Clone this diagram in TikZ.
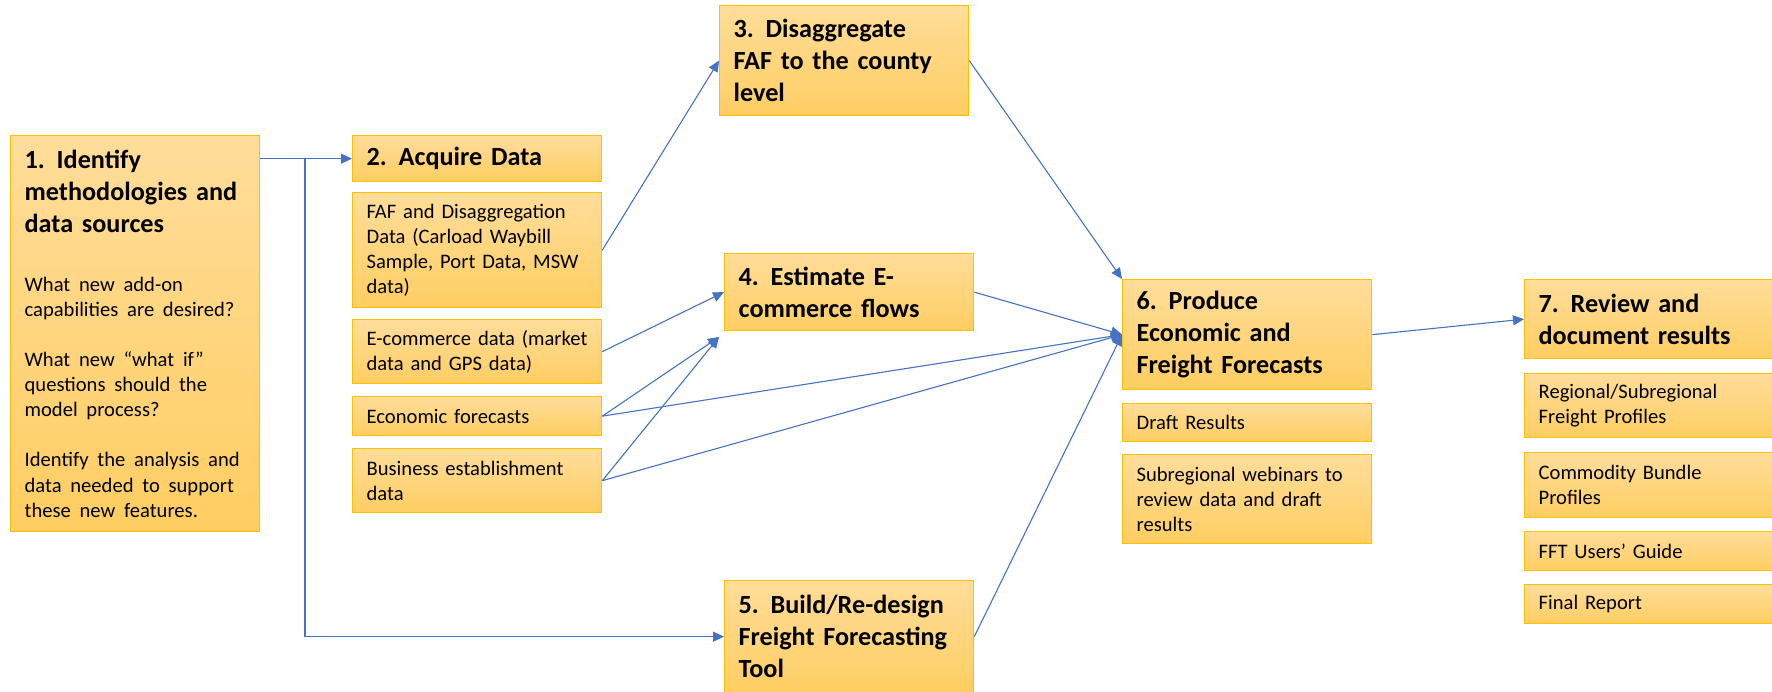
\documentclass[tikz,border=0pt]{standalone}
\usepackage{fontspec}
\setmainfont{Carlito}
\usetikzlibrary{arrows.meta}
\definecolor{boxtop}{HTML}{FFDD9A}
\definecolor{boxbot}{HTML}{FFCE62}
\definecolor{boxline}{HTML}{FFC000}
\definecolor{flowblue}{HTML}{4472C4}
\newcommand{\stagefont}{\fontsize{26.2}{32}\selectfont\bfseries}
\newcommand{\itemfont}{\fontsize{20.6}{25.1}\selectfont\mdseries}
\newcommand{\stepno}[1]{#1.\hspace{0.45em}}

\begin{document}
\begin{tikzpicture}[x=1pt, y=-1pt,
	flowbox/.style={anchor=north west, rectangle, draw=boxline, line width=1.3pt,
		top color=boxtop, bottom color=boxbot, text width=221pt,
		inner xsep=14pt, inner ysep=0pt, align=left},
	stagebox/.style={flowbox, font=\stagefont},
	itembox/.style={flowbox, font=\itemfont},
	flow/.style={draw=flowblue, line width=1.1pt, -{Triangle[length=11pt, width=10pt]}}]

	\useasboundingbox (0,0) rectangle (1772,691);

	% first column
	\node[stagebox, minimum height=396pt] (ident) at (10,135) {{\stepno{1}Identify\\methodologies and\\data sources\par}\vspace{34pt}
		{\itemfont What new add-on\\capabilities are desired?\par}\vspace{25pt}
		{\itemfont What new “what if”\\questions should the\\model process?\par}\vspace{25pt}
		{\itemfont Identify the analysis and\\data needed to support\\these new features.\par}};

	% data sources
	\node[stagebox, minimum height=46pt] (acquire) at (352,135) {\stepno{2}Acquire Data};
	\node[itembox, minimum height=115pt] (fafdata) at (352,192) {FAF and Disaggregation\\Data (Carload Waybill\\Sample, Port Data, MSW\\data)};
	\node[itembox, minimum height=64pt] (ecomdata) at (352,319) {E-commerce data (market\\data and GPS data)};
	\node[itembox, minimum height=39pt] (econfc) at (352,396) {Economic forecasts};
	\node[itembox, minimum height=64pt] (bizdata) at (352,448) {Business establishment\\data};

	% middle steps
	\node[stagebox, minimum height=110pt] (disagg) at (719,5) {\stepno{3}Disaggregate\\FAF to the county\\level};
	\node[stagebox, minimum height=77pt] (ecomflow) at (724,253) {\stepno{4}Estimate E-\\commerce flows};
	\node[stagebox, minimum height=112pt] (fft) at (724,580) {\stepno{5}Build/Re-design\\Freight Forecasting\\Tool};

	% forecasts
	\node[stagebox, minimum height=110pt] (produce) at (1122,279) {\stepno{6}Produce\\Economic and\\Freight Forecasts};
	\node[itembox, minimum height=38pt] (draft) at (1122,403) {Draft Results};
	\node[itembox, minimum height=89pt] (webinar) at (1122,454) {Subregional webinars to\\review data and draft\\results};

	% results
	\node[stagebox, minimum height=79pt] (review) at (1524,279) {\stepno{7}Review and\\document results};
	\node[itembox, minimum height=64pt] (regional) at (1524,373) {Regional/Subregional\\Freight Profiles};
	\node[itembox, minimum height=65pt] (commodity) at (1524,452) {Commodity Bundle\\Profiles};
	\node[itembox, minimum height=39pt] (usersguide) at (1524,531) {FFT Users’ Guide};
	\node[itembox, minimum height=39pt] (finalrep) at (1524,584) {Final Report};

	\coordinate (split) at (305,158);
	\coordinate (ecomin) at (719,337);

	\draw[flow] (ident.east |- acquire.west) -- (acquire.west);
	\draw[flow] (split) |- (fft.west);
	\draw[flow] (fafdata.east) -- (disagg.west);
	\draw[flow] (ecomdata.east) -- (ecomflow.west);
	\draw[flow] (econfc.east) -- (ecomin);
	\draw[flow] (bizdata.east) -- (ecomin);
	\foreach \src in {econfc, bizdata, ecomflow, fft}
		\draw[flow] (\src.east) -- (produce.west);
	\draw[flow] (disagg.east) -- (produce.north west);
	\draw[flow] (produce.east) -- (review.west);

\end{tikzpicture}
\end{document}
